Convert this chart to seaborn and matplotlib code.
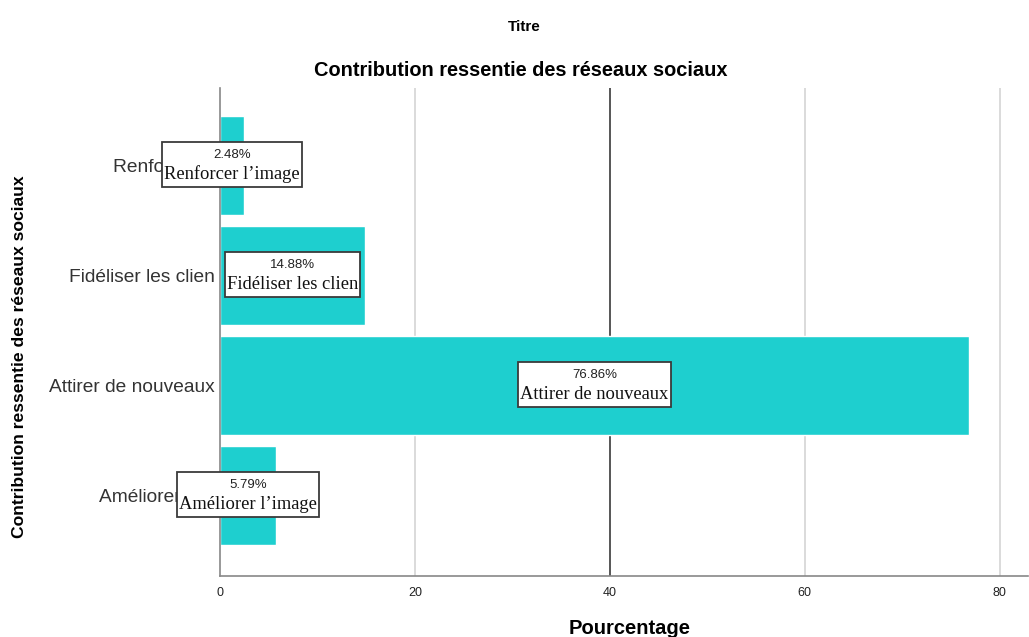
import matplotlib
matplotlib.use("Agg")
import matplotlib.pyplot as plt
from matplotlib.patches import Rectangle
import seaborn as sns
import pandas as pd

# Survey answers and their shares (%)
categories = ["Renforcer l'image", "Fidéliser les clients", "Attirer de nouveaux", "Améliorer l'image"]
tick_labels = ["Renforcer l'i", "Fidéliser les clien", "Attirer de nouveaux", "Améliorer l'im"]
box_labels = ["Renforcer l’image", "Fidéliser les clien", "Attirer de nouveaux", "Améliorer l’image"]
percentages = [2.48, 14.88, 76.86, 5.79]
x_ticks = [0, 20, 40, 60, 80]

sns.set_style("white")
plt.rcParams["font.family"] = ["Liberation Sans", "DejaVu Sans"]

df = pd.DataFrame({"categorie": categories, "pct": percentages})

fig = plt.figure(figsize=(10.29, 6.37), dpi=100)
ax = fig.add_axes([220 / 1029, 1 - 576 / 637, 808 / 1029, 488 / 637])

bar_color = "#1ecfcf"
sns.barplot(data=df, x="pct", y="categorie", orient="h", color=bar_color,
            width=0.9, saturation=1, ax=ax, zorder=2)

ax.set_xlim(0, 82.9)
ax.set_ylim(3.736, -0.7)

# vertical reference lines
for t in x_ticks[1:]:
    if t == 40:
        ax.axvline(t, color="#3a3a3a", lw=1.2, zorder=1)
    else:
        ax.axvline(t, color="#d4d4d4", lw=1.2, zorder=1)

ax.set_xticks(x_ticks)
ax.set_xticklabels([str(t) for t in x_ticks], fontsize=9, color="#222222")
ax.set_yticks(range(len(categories)))
ax.set_yticklabels(tick_labels, fontsize=13.8, color="#333333")
ax.tick_params(axis="x", length=0, pad=8)
ax.tick_params(axis="y", length=0, pad=4)
ax.set_xlabel("")
ax.set_ylabel("")

for side in ["top", "right"]:
    ax.spines[side].set_visible(False)
for side in ["left", "bottom"]:
    ax.spines[side].set_color("#888888")
    ax.spines[side].set_linewidth(1.2)

# value labels centred on each bar: percentage above the category name
pairs = []
for i, (val, lab) in enumerate(zip(percentages, box_labels)):
    xc = val / 2
    t1 = ax.text(xc, i - 0.09, f"{val:.2f}%", ha="center", va="center",
                 fontsize=9.5, color="#222222", zorder=6)
    t2 = ax.text(xc, i + 0.085, lab, ha="center", va="center", fontsize=13.3,
                 family="Liberation Serif", color="#111111", zorder=6)
    pairs.append((t1, t2))

# white frame around each pair of labels
fig.canvas.draw()
renderer = fig.canvas.get_renderer()
for t1, t2 in pairs:
    b1 = t1.get_window_extent(renderer)
    b2 = t2.get_window_extent(renderer)
    x0 = min(b1.x0, b2.x0) - 2
    x1 = max(b1.x1, b2.x1) + 2
    y0 = b2.y0 - 4
    y1 = b1.y1 + 7
    rect = Rectangle((x0, y0), x1 - x0, y1 - y0, transform=None,
                     facecolor="white", edgecolor="#3a3a3a", lw=1.3, zorder=5)
    fig.add_artist(rect)
    t1.remove(); t2.remove()
    fig.add_artist(t1); fig.add_artist(t2)

fig.text(524 / 1029, 1 - 27 / 637, "Titre", ha="center", va="center",
         fontsize=11, fontweight="bold", color="black")
fig.text(520.5 / 1029, 1 - 70 / 637, "Contribution ressentie des réseaux sociaux",
         ha="center", va="center", fontsize=14.4, fontweight="bold", color="black")
fig.text(630 / 1029, 1 - 628 / 637, "Pourcentage", ha="center", va="center",
         fontsize=14.5, fontweight="bold", color="black")
fig.text(20 / 1029, 1 - 357 / 637, "Contribution ressentie des réseaux sociaux",
         ha="center", va="center", rotation=90, fontsize=12.6, fontweight="bold",
         color="black")

fig.savefig("out.png", dpi=100)
